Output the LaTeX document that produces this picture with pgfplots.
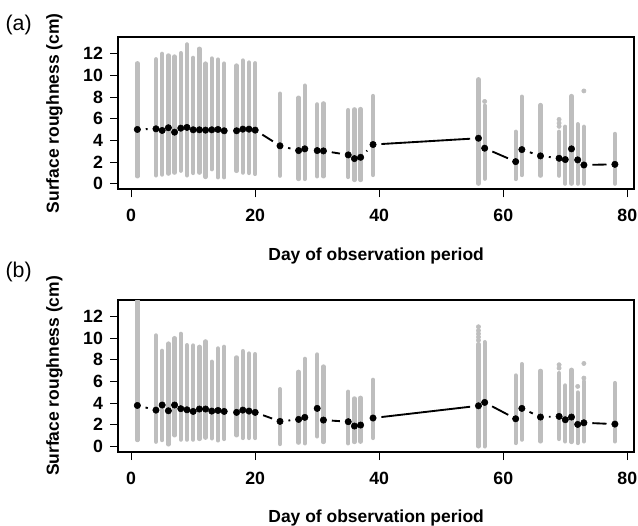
\documentclass[border=0pt]{standalone}
\usepackage{fontspec}
\setmainfont{Liberation Sans}
\usepackage{pgfplots}
\usepackage{pgfplotstable}
\pgfplotsset{compat=1.18}
\definecolor{rgray}{HTML}{BEBEBE}

% day, lower end, upper end of the grey range, plotted mean
\pgfplotstableread{
day lo hi mean
1 0.68 11.13 5.01
4 0.77 11.50 5.07
5 0.84 12.00 4.92
6 0.93 11.85 5.17
7 1.02 11.75 4.76
8 1.20 12.06 5.13
9 0.77 12.87 5.20
10 0.99 11.63 4.98
11 1.02 12.47 4.98
12 0.62 11.10 4.95
13 1.33 11.57 4.98
14 0.59 11.47 5.01
15 0.59 11.10 4.89
17 1.18 10.92 4.89
18 1.02 11.38 5.04
19 0.99 11.20 5.04
20 0.90 11.13 4.95
24 0.74 8.32 3.50
27 0.43 7.95 3.06
28 0.43 9.06 3.22
30 0.68 7.33 3.06
31 0.68 7.42 3.03
35 0.62 6.80 2.66
36 0.34 6.87 2.32
37 0.34 6.90 2.44
39 0.80 8.10 3.62
56 0.00 9.65 4.20
57 0.46 7.20 3.28
62 0.43 4.80 2.04
63 0.80 8.04 3.15
66 0.74 7.27 2.57
69 0.74 4.80 2.35
70 0.00 5.26 2.23
71 0.00 8.10 3.22
72 0.00 5.50 2.20
73 0.00 5.26 1.73
78 0.00 4.60 1.79
}\tabA

\pgfplotstableread{
day lo hi mean
1 0.58 13.45 3.78
4 0.43 10.25 3.35
5 0.58 8.83 3.82
6 0.18 9.50 3.29
7 1.02 10.00 3.82
8 0.62 10.40 3.48
9 0.62 9.35 3.38
10 0.62 9.32 3.23
11 0.68 9.20 3.45
12 0.80 9.70 3.45
13 0.74 7.82 3.26
14 0.55 9.05 3.32
15 0.68 9.20 3.23
17 1.02 8.22 3.14
18 0.77 8.80 3.35
19 0.77 8.58 3.26
20 0.77 8.52 3.14
24 0.22 5.29 2.31
27 0.34 6.89 2.49
28 0.28 8.09 2.68
30 0.92 8.49 3.51
31 0.40 7.38 2.43
35 0.28 5.05 2.28
36 0.40 4.43 1.88
37 0.43 4.49 1.97
39 0.77 6.15 2.62
56 0.00 9.45 3.75
57 0.00 9.63 4.06
62 0.31 6.55 2.55
63 0.62 7.60 3.51
66 0.46 6.98 2.71
69 0.68 6.77 2.77
70 0.46 5.63 2.46
71 0.40 7.08 2.71
72 0.31 4.98 2.03
73 0.46 6.00 2.18
78 0.46 5.85 2.06
}\tabB

\newcommand\drawsegs[1]{%
  \pgfplotsforeachungrouped \i in {1,...,36}{%
    \pgfmathtruncatemacro\j{\i-1}%
    \pgfplotstablegetelem{\j}{day}\of#1\let\xa\pgfplotsretval
    \pgfplotstablegetelem{\j}{mean}\of#1\let\ya\pgfplotsretval
    \pgfplotstablegetelem{\i}{day}\of#1\let\xb\pgfplotsretval
    \pgfplotstablegetelem{\i}{mean}\of#1\let\yb\pgfplotsretval
    \pgfmathsetmacro\seglen{veclen(4.651*(\xb-\xa),8.12*(\yb-\ya))}%
    \ifdim\seglen pt>13pt
      \edef\temp{\noexpand\addplot[black, line width=1.4pt, shorten <=6.3pt, shorten >=6.3pt, forget plot] coordinates {(\xa,\ya) (\xb,\yb)};}%
      \temp
    \fi
  }%
}

\pgfplotsset{
  panel/.style={
    scale only axis, width=386.8pt, height=114pt,
    xmin=-2.08, xmax=81.08, ymin=-0.52, ymax=13.52,
    xtick={0,20,40,60,80}, ytick={0,2,...,12},
    tick align=outside, xtick pos=bottom, ytick pos=left,
    major tick length=6pt,
    tick style={line width=0.8pt, black},
    axis line style={line width=1.3pt},
    /pgf/number format/assume math mode=true,
    tick label style={font=\fontsize{13.3}{15}\selectfont\bfseries},
    yticklabel style={xshift=-2pt},
    xticklabel style={yshift=-5.5pt},
    label style={font=\fontsize{13.1}{15}\selectfont\bfseries},
    xlabel={Day of observation period},
    ylabel={Surface roughness (cm)},
    xlabel style={at={(axis description cs:0.5,-0.465)}, anchor=base},
    ylabel style={at={(axis description cs:-0.115,0.5)}, anchor=base},
  },
  bars/.style={draw=none, no marks, forget plot,
    error bars/.cd, y dir=plus, y explicit, error mark=none,
    error bar style={draw=rgray, line width=3.2pt, line cap=round}},
  outl/.style={only marks, mark=*, mark size=1.6pt, draw=rgray, fill=rgray, forget plot},
  pts/.style={only marks, mark=*, mark size=2.4pt, black, forget plot},
}

\begin{document}
\begin{tikzpicture}
\useasboundingbox (0,0) rectangle (478.5pt,-393.75pt);
\node[anchor=base west, inner sep=0, font=\fontsize{16}{18}\selectfont] at (4pt,-23pt) {(a)};
\node[anchor=base west, inner sep=0, font=\fontsize{16}{18}\selectfont] at (4pt,-208pt) {(b)};

\begin{axis}[panel, at={(88.7pt,-142pt)}, anchor=south west]
\addplot[bars] table[x=day, y=lo, y error expr=\thisrow{hi}-\thisrow{lo}] {\tabA};
\addplot[outl] coordinates {(57,7.6) (69,5.3) (69,5.6) (69,5.94) (73,8.57)};
\drawsegs{\tabA}
\addplot[pts] table[x=day, y=mean] {\tabA};
\end{axis}

\begin{axis}[panel, at={(88.7pt,-339pt)}, anchor=south west]
\addplot[bars] table[x=day, y=lo, y error expr=\thisrow{hi}-\thisrow{lo}] {\tabB};
\addplot[outl] coordinates {(56,9.8) (56,10.1) (56,10.4) (56,10.7) (56,11.05) (69,7.23) (69,7.54) (72,5.54) (73,6.31) (73,7.66)};
\drawsegs{\tabB}
\addplot[pts] table[x=day, y=mean] {\tabB};
\end{axis}
\end{tikzpicture}
\end{document}
